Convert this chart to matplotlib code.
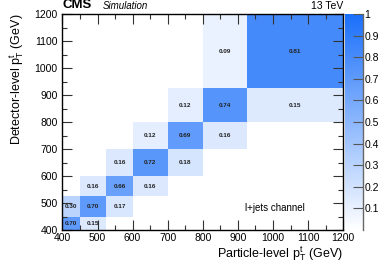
import numpy as np
import matplotlib
matplotlib.use("Agg")
import matplotlib.pyplot as plt
from matplotlib.colors import LinearSegmentedColormap
from matplotlib.ticker import MultipleLocator
from matplotlib.lines import Line2D

plt.rcParams['font.family'] = ['Liberation Sans', 'DejaVu Sans']

bin_edges = [400, 450, 525, 600, 700, 800, 925, 1200]
# rows: detector-level bins (bottom to top); columns: particle-level bins
row0 = [0.70, 0.15, None, None, None, None, None]
row1 = [0.30, 0.70, 0.17, None, None, None, None]
row2 = [None, 0.16, 0.66, 0.16, None, None, None]
row3 = [None, None, 0.16, 0.72, 0.18, None, None]
row4 = [None, None, None, 0.12, 0.69, 0.16, None]
row5 = [None, None, None, None, 0.12, 0.74, 0.15]
row6 = [None, None, None, None, None, 0.09, 0.81]
rows = [row0, row1, row2, row3, row4, row5, row6]

M = np.array([[np.nan if v is None else v for v in r] for r in rows])
Mm = np.ma.masked_invalid(M)

cmap = LinearSegmentedColormap.from_list('wb', ['#ffffff', '#1a6ffa'])

fig = plt.figure(figsize=(3.90, 2.65), dpi=100)
ax = fig.add_axes([0.160, 0.132, 0.720, 0.815])
cax = fig.add_axes([0.885, 0.132, 0.046, 0.815])

edges = np.array(bin_edges)
mesh = ax.pcolormesh(edges, edges, Mm, cmap=cmap, vmin=0, vmax=1)
centers = 0.5 * (edges[:-1] + edges[1:])
for i in range(M.shape[0]):
    for j in range(M.shape[1]):
        if not np.isnan(M[i, j]):
            ax.text(centers[j], centers[i], f"{M[i, j]:.2f}", ha='center', va='center',
                    fontsize=4.6, fontweight='bold', color='#222222')

ax.set_xlim(400, 1200)
ax.set_ylim(400, 1200)
ax.xaxis.set_major_locator(MultipleLocator(100))
ax.xaxis.set_minor_locator(MultipleLocator(50))
ax.yaxis.set_major_locator(MultipleLocator(100))
ax.yaxis.set_minor_locator(MultipleLocator(50))
ax.tick_params(which='both', direction='in', top=True, right=True, labelsize=7.5, width=0.8, color='#333333')
ax.tick_params(which='major', length=7)
ax.tick_params(which='minor', length=3.5)
ax.tick_params(axis='x', pad=2)
for s in ax.spines.values():
    s.set_linewidth(1.0)

ax.set_xlabel(r'Particle-level $\mathregular{p_T^t}$ (GeV)', fontsize=9, ha='right', x=1.0, labelpad=1)
ax.set_ylabel(r'Detector-level $\mathregular{p_T^t}$ (GeV)', fontsize=9, ha='right', y=1.0, labelpad=6)

ax.text(1005, 482, 'l+jets channel', fontsize=7, ha='center', va='center')
ax.text(0.0, 1.015, 'CMS', transform=ax.transAxes, fontsize=9.5, fontweight='bold', ha='left', va='bottom')
ax.text(0.145, 1.015, 'Simulation', transform=ax.transAxes, fontsize=7, style='italic', ha='left', va='bottom')
ax.text(1.0, 1.015, '13 TeV', transform=ax.transAxes, fontsize=7.5, ha='right', va='bottom')

cb = fig.colorbar(mesh, cax=cax)
cb.outline.set_visible(False)
cb.set_ticks([0.1, 0.2, 0.3, 0.4, 0.5, 0.6, 0.7, 0.8, 0.9, 1.0])
cb.set_ticklabels(['0.1', '0.2', '0.3', '0.4', '0.5', '0.6', '0.7', '0.8', '0.9', '1'])
cax.tick_params(direction='in', length=7, labelsize=7.5, color='#555555', pad=1)
cax.add_line(Line2D([1, 1], [0, 1], transform=cax.transAxes, color='#666666', lw=1.0, clip_on=False))

fig.savefig('out.png', dpi=100)
